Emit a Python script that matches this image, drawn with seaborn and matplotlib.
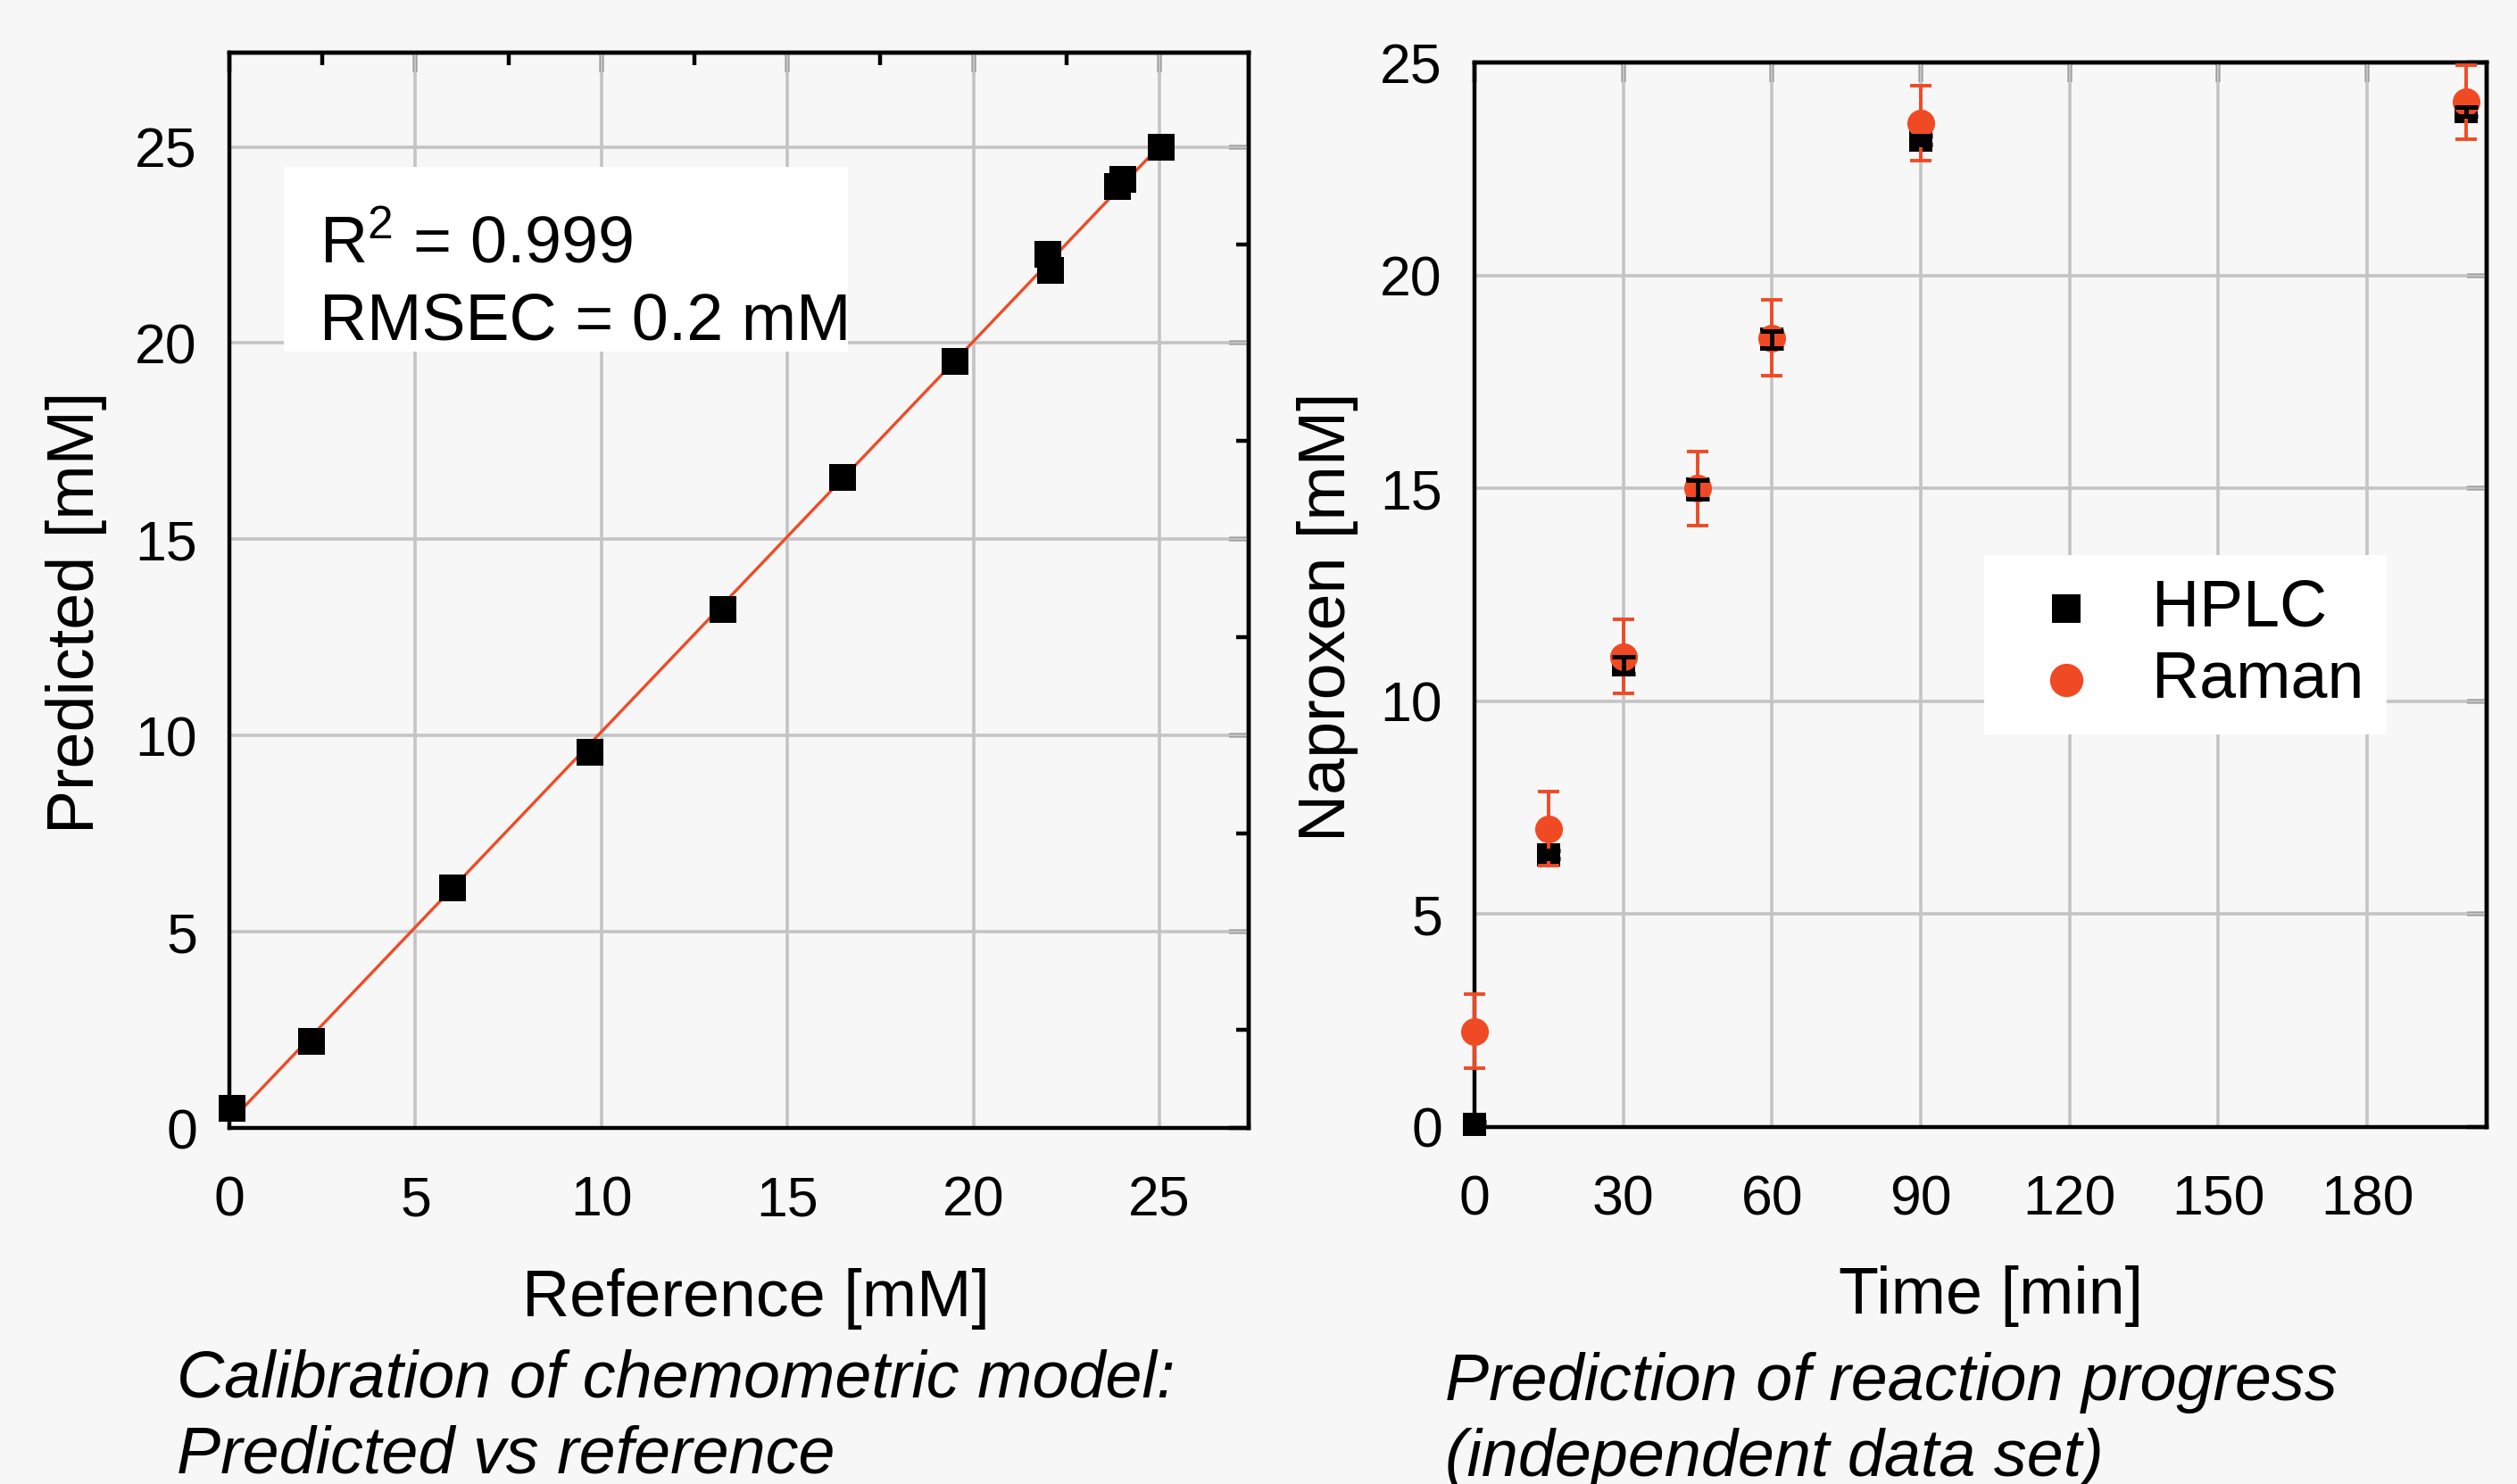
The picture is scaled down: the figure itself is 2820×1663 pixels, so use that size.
import numpy as np
import matplotlib
matplotlib.use('Agg')
import matplotlib.pyplot as plt
import seaborn as sns
from matplotlib.patches import Rectangle
from matplotlib.ticker import MultipleLocator


# calibration data (left panel)
reference = [0.07, 2.2, 6.0, 9.69, 13.28, 16.49, 19.5, 22.0, 22.07, 23.87, 24.02, 25.05]
predicted = [0.5, 2.2, 6.12, 9.58, 13.22, 16.58, 19.54, 22.27, 21.86, 23.98, 24.18, 25.0]

# reaction progress (right panel)
time_min = [0, 15, 30, 45, 60, 90, 200]
hplc = [0.07, 6.4, 10.85, 14.98, 18.5, 23.18, 23.85]
hplc_err = [0.05, 0.1, 0.2, 0.22, 0.2, 0.1, 0.1]
raman = [2.25, 7.0, 11.05, 15.0, 18.53, 23.58, 24.07]
raman_err = [0.87, 0.87, 0.87, 0.87, 0.89, 0.88, 0.87]

left_ticks = [0, 5, 10, 15, 20, 25]
time_ticks = [0, 30, 60, 90, 120, 150, 180]
conc_ticks = [0, 5, 10, 15, 20, 25]

RED = '#f04a25'
BG = '#f7f7f7'
GRID = '#c4c4c4'

sns.set_style('white', rc={'axes.facecolor': BG, 'figure.facecolor': BG,
                           'text.color': 'black', 'axes.labelcolor': 'black',
                           'xtick.color': 'black', 'ytick.color': 'black'})
plt.rcParams['font.family'] = ['Liberation Sans', 'DejaVu Sans']
plt.rcParams['mathtext.default'] = 'regular'

fig = plt.figure(figsize=(14.1, 8.315), dpi=200)
W, H = 2820, 1663
ax1 = fig.add_axes([257 / W, 1 - 1264 / H, (1399 - 257) / W, (1264 - 59) / H])
ax2 = fig.add_axes([1652 / W, 1 - 1263 / H, (2786 - 1652) / W, (1263 - 70) / H])

TICK_FS = 22.5
LABEL_FS = 26.5


def style_axes(ax, xticks, yticks, minor=None):
    ax.set_axisbelow(True)
    ax.grid(True, which='major', color=GRID, lw=1.3)
    for sp in ax.spines.values():
        sp.set_visible(True)
        sp.set_color('black')
        sp.set_linewidth(1.6)
    ax.set_xticks(xticks)
    ax.set_yticks(yticks)
    ax.tick_params(which='major', direction='out', length=8, width=1.6,
                   labelsize=TICK_FS, top=False, right=False, color='black',
                   labelcolor='black')
    ax.tick_params(which='minor', direction='out', length=5, width=1.6,
                   top=False, right=False, color='black')
    ax.tick_params(axis='x', pad=11)
    ax.tick_params(axis='y', pad=5)
    # inward ticks on top and right
    secx = ax.secondary_xaxis('top')
    secy = ax.secondary_yaxis('right')
    secx.set_xticks(xticks)
    secy.set_yticks(yticks)
    for s in (secx, secy):
        s.tick_params(which='major', direction='in', length=8, width=1.6, color='black',
                      labelleft=False, labelright=False, labeltop=False, labelbottom=False)
        s.tick_params(which='minor', direction='in', length=5, width=1.6, color='black')
        for sp in s.spines.values():
            sp.set_linewidth(1.6)
            sp.set_color('black')
    if minor:
        for a in (ax.xaxis, ax.yaxis, secx.xaxis, secy.yaxis):
            a.set_minor_locator(MultipleLocator(minor))


# ---- left: calibration ----
ax1.set_xlim(0, 27.4)
ax1.set_ylim(0, 27.4)
style_axes(ax1, left_ticks, left_ticks, minor=2.5)

fit = np.polyfit(reference, predicted, 1)
xs = np.array([min(reference), max(reference)])
ax1.plot(xs, np.polyval(fit, xs), color=RED, lw=1.2, zorder=3)
sns.scatterplot(x=reference, y=predicted, ax=ax1, marker='s', s=10.5 ** 2,
                color='black', linewidth=0, zorder=4, clip_on=False)

ax1.add_patch(Rectangle((1.46, 19.79), 15.17, 4.71, facecolor='white',
                        edgecolor='none', zorder=2))
ax1.text(2.42, 22.04, 'R$^2$ = 0.999', fontsize=LABEL_FS, va='baseline', zorder=5)
ax1.text(2.42, 20.09, 'RMSEC = 0.2 mM', fontsize=LABEL_FS, va='baseline', zorder=5)

ax1.set_xlabel('Reference [mM]', fontsize=LABEL_FS)
ax1.set_ylabel('Predicted [mM]', fontsize=LABEL_FS)
ax1.xaxis.set_label_coords(0.517, -0.13)
ax1.yaxis.set_label_coords(-0.12, 0.479)

# ---- right: reaction progress ----
ax2.set_xlim(0, 204.1)
ax2.set_ylim(0, 25)
style_axes(ax2, time_ticks, conc_ticks)

sns.scatterplot(x=time_min, y=hplc, ax=ax2, marker='s', s=9.5 ** 2,
                color='black', linewidth=0, zorder=4, clip_on=False, label='HPLC')
ax2.errorbar(time_min, raman, yerr=raman_err, fmt='none', ecolor=RED,
             elinewidth=1.4, capsize=4.2, capthick=1.4, zorder=4.5, clip_on=False)
sns.scatterplot(x=time_min, y=raman, ax=ax2, marker='o', s=11.2 ** 2,
                color=RED, linewidth=0, zorder=5, clip_on=False, label='Raman')
ax2.errorbar(time_min, hplc, yerr=hplc_err, fmt='none', ecolor='black',
             elinewidth=1.8, capsize=4.8, capthick=1.8, zorder=5.5, clip_on=False)

leg = ax2.legend(loc='upper left', bbox_to_anchor=(2223 / W, 1 - 622 / H),
                 bbox_transform=fig.transFigure, fontsize=LABEL_FS, frameon=True,
                 fancybox=False, framealpha=1, facecolor='white', edgecolor='none',
                 borderaxespad=0, borderpad=0.35, handlelength=1.8, markerscale=1.2,
                 handletextpad=0.4, labelspacing=0.15)

ax2.set_xlabel('Time [min]', fontsize=LABEL_FS)
ax2.set_ylabel('Naproxen [mM]', fontsize=LABEL_FS)
ax2.xaxis.set_label_coords(0.51, -0.13)
ax2.yaxis.set_label_coords(-0.115, 0.479)

# captions
fig.text(198 / W, 1 - 1511 / H, 'Calibration of chemometric model:\nPredicted vs reference',
         fontsize=LABEL_FS, style='italic', va='top', ha='left', linespacing=1.3)
fig.text(1619 / W, 1 - 1515 / H, 'Prediction of reaction progress\n(independent data set)',
         fontsize=LABEL_FS, style='italic', va='top', ha='left', linespacing=1.3)

fig.savefig('out.png', dpi=200, facecolor=BG)
